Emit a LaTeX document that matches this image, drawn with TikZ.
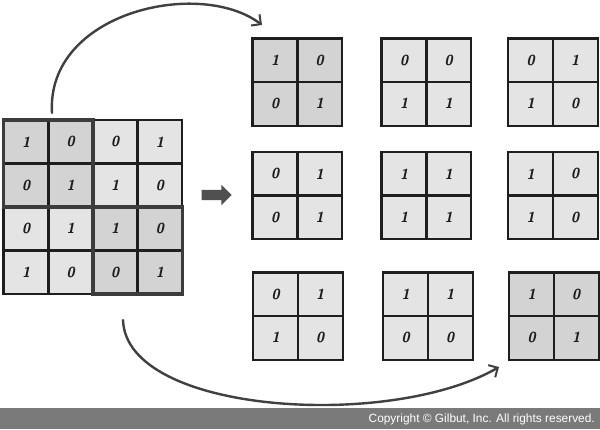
\documentclass[tikz,border=0pt]{standalone}
\usepackage{fontspec}
\usetikzlibrary{arrows.meta,shapes.arrows}
\newfontfamily\copyfont{Liberation Sans}
\definecolor{cellA}{HTML}{E4E4E4}
\definecolor{cellB}{HTML}{D3D3D3}
\definecolor{lineC}{HTML}{1E1E1E}
\definecolor{quadC}{HTML}{3C3C3C}
\definecolor{barC}{HTML}{7A7A7A}
\definecolor{arcC}{HTML}{404040}
\definecolor{blockC}{HTML}{505050}
\tikzset{
  cellbox/.style={minimum width=44.6pt, minimum height=43.4pt,
    inner sep=0pt, anchor=north west, text=lineC,
    font=\sffamily\bfseries\itshape\fontsize{14.5}{14.5}\selectfont},
  cellline/.style={draw=lineC, line width=2.2pt},
  quadframe/.style={draw=quadC, line width=3.6pt},
  curvearrow/.style={draw=arcC, line width=2.4pt, line cap=round,
    -{Straight Barb[length=7pt,width=14pt,line width=2pt]}},
  blockarrow/.style={single arrow, fill=blockC, minimum height=30pt,
    inner xsep=0pt, inner ysep=5pt, single arrow head extend=5pt},
  copytext/.style={font=\copyfont\fontsize{11.9}{12}\selectfont, text=white, anchor=east, inner sep=0pt}
}
% small 2x2 grid: name, x, y, fill, a, b, c, d
\newcommand\twogrid[8]{%
  \node[cellbox, fill=#4] (#1a) at (#2,#3) {#5};
  \node[cellbox, fill=#4] (#1b) at (#2+44.6,#3) {#6};
  \node[cellbox, fill=#4] (#1c) at (#2,#3+43.4) {#7};
  \node[cellbox, fill=#4] (#1d) at (#2+44.6,#3+43.4) {#8};
}
\newcommand\twolines[1]{%
  \draw[cellline] (#1a.north west) rectangle (#1a.south east);
  \draw[cellline] (#1b.north west) rectangle (#1b.south east);
  \draw[cellline] (#1c.north west) rectangle (#1c.south east);
  \draw[cellline] (#1d.north west) rectangle (#1d.south east);
}
\begin{document}
\begin{tikzpicture}[x=1pt,y=-1pt]
\fill[white] (0,0) rectangle (600,429);
\useasboundingbox (0,0) rectangle (600,429);
% big 4x4 grid
\twogrid{tl}{3.5}{120}{cellB}{1}{0}{0}{1}
\twogrid{tr}{92.7}{120}{cellA}{0}{1}{1}{0}
\twogrid{bl}{3.5}{206.8}{cellA}{0}{1}{1}{0}
\twogrid{br}{92.7}{206.8}{cellB}{1}{0}{0}{1}
\twolines{tl}\twolines{tr}\twolines{bl}\twolines{br}
\draw[quadframe] (tla.north west) rectangle (tld.south east);
\draw[quadframe] (bra.north west) rectangle (brd.south east);
% nine small grids
\twogrid{ga}{252.5}{38.5}{cellB}{1}{0}{0}{1}
\twogrid{gb}{381.5}{38.5}{cellA}{0}{0}{1}{1}
\twogrid{gc}{508}{38.5}{cellA}{0}{1}{1}{0}
\twogrid{gd}{252.5}{152}{cellA}{0}{1}{0}{1}
\twogrid{ge}{381.5}{152}{cellA}{1}{1}{1}{1}
\twogrid{gf}{508}{152}{cellA}{1}{0}{1}{0}
\twogrid{gg}{253}{272.5}{cellA}{0}{1}{1}{0}
\twogrid{gh}{383}{272.5}{cellA}{1}{1}{0}{0}
\twogrid{gi}{509}{272.5}{cellB}{1}{0}{0}{1}
\twolines{ga}\twolines{gb}\twolines{gc}
\twolines{gd}\twolines{ge}\twolines{gf}
\twolines{gg}\twolines{gh}\twolines{gi}
% middle block arrow
\node[blockarrow] (mid) at (214,195) {};
% curved arrows
\coordinate (topS) at (52,113);
\coordinate (topE) at (262,25);
\coordinate (botS) at (123,320);
\coordinate (botE) at (499,367);
\draw[curvearrow] (topS) .. controls (46,12) and (200,-22) .. (topE);
\draw[curvearrow] (botS) .. controls (126,414) and (390,430) .. (botE);
% copyright bar
\fill[barC] (0,408) rectangle (600,429);
\node[copytext] (copy) at (595,419) {Copyright © Gilbut, Inc. All rights reserved.};
\end{tikzpicture}
\end{document}
